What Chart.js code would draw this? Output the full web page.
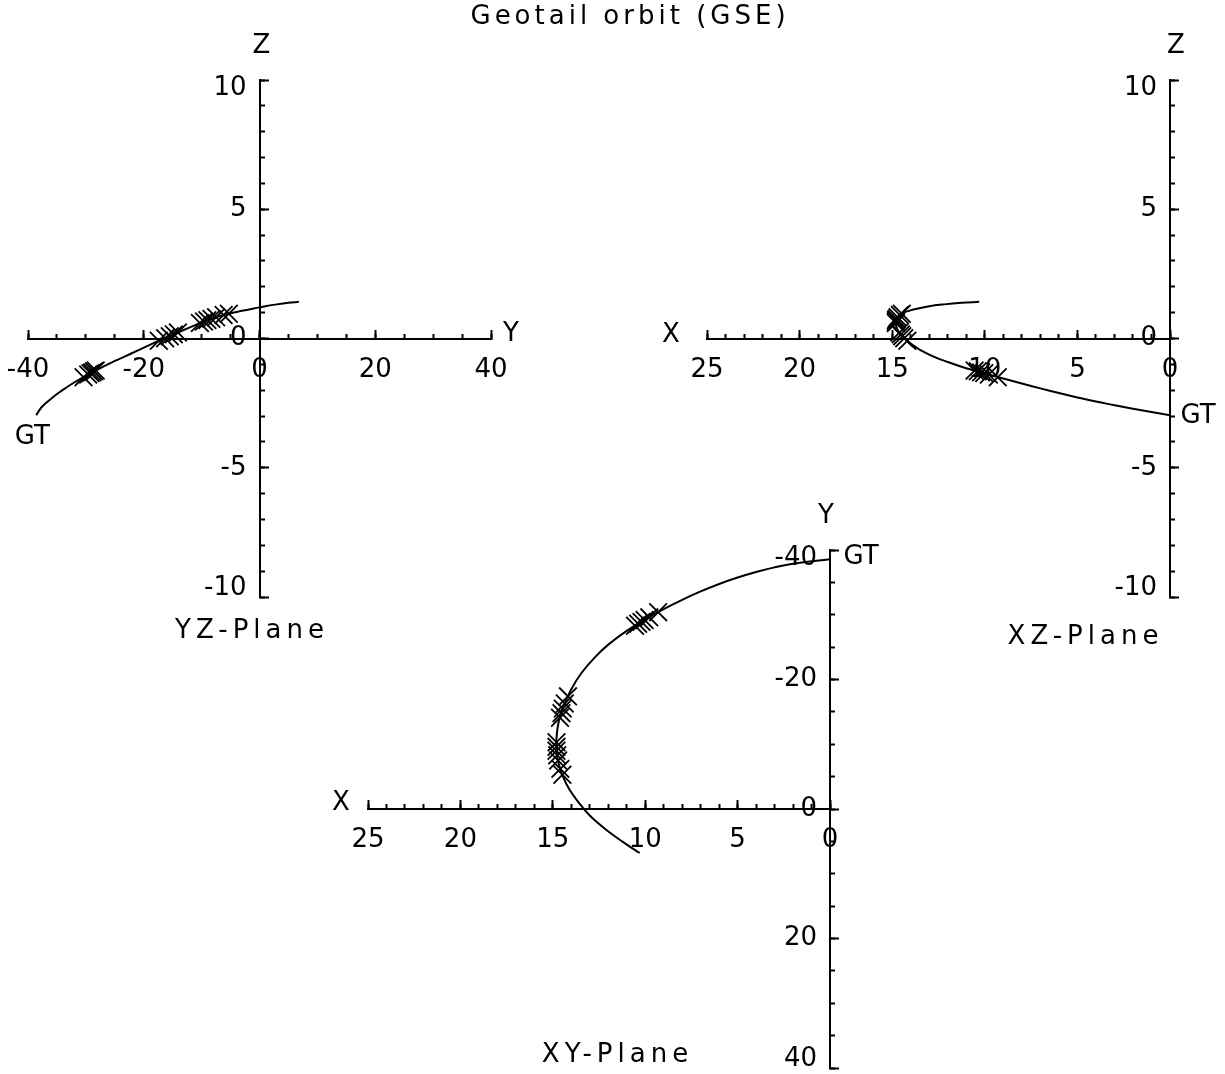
<!DOCTYPE html>
<html><head><meta charset="utf-8">
<script src="https://cdn.jsdelivr.net/npm/chart.js@4/dist/chart.umd.min.js"></script>
<style>
html,body{margin:0;padding:0;background:#fff;overflow:hidden}
#wrap{position:relative;width:1225px;height:1074px;background:#fff}
#wrap canvas{position:absolute;left:0;top:0}
</style></head><body>
<div id="wrap">
<canvas id="yz" width="1225" height="1074"></canvas>
<canvas id="xz" width="1225" height="1074"></canvas>
<canvas id="xy" width="1225" height="1074"></canvas>
</div>
<script>
// ---- data (GSE, Earth radii) ----
const orbitX = [0, 2, 3, 4, 5, 6, 7, 8, 9, 10, 11, 11.95, 12.7, 13.45, 14.0, 14.4, 14.68, 14.8, 14.8, 14.68, 14.45, 14.1, 13.6, 13.0, 12.2, 11.25, 10.3];
const orbitY = [-38.56, -37.88, -37.32, -36.61, -35.75, -34.75, -33.6, -32.3, -30.86, -29.25, -27.52, -25.5, -23.5, -21.0, -18.5, -16.0, -13.5, -11.0, -9.0, -7.0, -5.0, -3.0, -1.0, 1.0, 3.0, 5.0, 6.8];
const orbitZ = [-2.97, -2.72, -2.58, -2.44, -2.28, -2.11, -1.93, -1.74, -1.55, -1.35, -1.15, -0.92, -0.72, -0.46, -0.20, 0.04, 0.29, 0.53, 0.71, 0.86, 0.98, 1.07, 1.16, 1.25, 1.32, 1.38, 1.42];

const markX = [9.3, 9.78, 10.03, 10.2, 10.38, 10.55, 14.18, 14.35, 14.46, 14.53, 14.61, 14.8, 14.8, 14.8, 14.76, 14.71, 14.59, 14.48];
const markY = [-30.4, -29.6, -29.2, -28.9, -28.6, -28.3, -17.4, -16.3, -15.5, -14.8, -14.1, -10.3, -9.6, -9.0, -8.3, -7.5, -6.2, -5.3];
const markZ = [-1.50, -1.39, -1.34, -1.31, -1.27, -1.24, -0.09, 0.01, 0.09, 0.16, 0.23, 0.60, 0.66, 0.71, 0.76, 0.82, 0.91, 0.96];

// tick labels
const yTicksWide = [-40, -20, 0, 20, 40];
const zTicks = [-10, -5, 0, 5, 10];
const xTicks = [25, 20, 15, 10, 5, 0];

const chartTitle = 'Geotail orbit (GSE)';
const planeNames = ['YZ-Plane', 'XZ-Plane', 'XY-Plane'];
const startLabel = 'GT';

// ---- styling ----
const FAMILY = '"DejaVu Sans", "Liberation Sans", sans-serif';
const hFont = {family: FAMILY, size: 26, weight: 'normal'};
const vFont = {family: FAMILY, size: 26, weight: 'normal', lineHeight: '17px'};

function zeroPad(s){ s.paddingLeft = 0; s.paddingRight = 0; s.paddingTop = 0; s.paddingBottom = 0; }

function majorScale(axis, min, max, rev, vals){
  const horiz = axis === 'x';
  // end labels of vertical axes are nudged inward (as in the original)
  const topVal = rev ? min : max, botVal = rev ? max : min;
  const vLabel = v => {
    const s = String(v) + '\u2002';
    if (v === topVal) return ['', s];
    if (v === botVal) return [s, ''];
    return s;
  };
  return {
    type: 'linear', axis, min, max, reverse: rev,
    position: horiz ? {y: 0} : {x: 0},
    afterBuildTicks: s => { s.ticks = vals.map(v => ({value: v})); },
    ticks: {
      font: horiz ? hFont : vFont, color: '#000', padding: horiz ? 26 : 0,
      autoSkip: false, maxRotation: 0, minRotation: 0,
      callback: v => horiz ? String(v) : vLabel(v)
    },
    grid: {drawOnChartArea: false, drawTicks: true, tickLength: -10, tickWidth: 2, tickColor: '#000', color: '#000'},
    border: {display: true, color: '#000', width: 2},
    afterFit: zeroPad
  };
}
function minorScale(axis, min, max, rev, step){
  const horiz = axis === 'x';
  return {
    type: 'linear', axis, min, max, reverse: rev,
    position: horiz ? {y: 0} : {x: 0},
    ticks: {display: false, stepSize: step, autoSkip: false},
    grid: {drawOnChartArea: false, drawTicks: true, tickLength: -5, tickWidth: 2, tickColor: '#000', color: '#000'},
    border: {display: false},
    afterFit: zeroPad
  };
}

const annotPlugin = {
  id: 'annot',
  afterDraw(chart, args, opts) {
    const ctx = chart.ctx, xs = chart.scales.x, ys = chart.scales.y;
    ctx.save();
    ctx.fillStyle = '#000';
    ctx.textAlign = 'center';
    ctx.textBaseline = 'middle';
    ctx.font = '26px ' + FAMILY;
    for (const a of opts.items) {
      const ls = a.ls || 0;
      ctx.letterSpacing = ls + 'px';
      const px = a.abs ? a.x : xs.getPixelForValue(a.x) + a.dx;
      const py = a.abs ? a.y : ys.getPixelForValue(a.y) + a.dy;
      ctx.fillText(a.text, px + ls / 2, py);
    }
    ctx.letterSpacing = '0px';
    ctx.restore();
  }
};

function panel(id, h, v, mh, mv, pad, scales, items){
  const line = h.map((val, i) => ({x: val, y: v[i]}));
  const marks = mh.map((val, i) => ({x: val, y: mv[i]}));
  return new Chart(document.getElementById(id), {
    type: 'scatter',
    data: {datasets: [
      {data: line, showLine: true, borderColor: '#000', borderWidth: 2, pointRadius: 0, tension: 0.4, fill: false, clip: false},
      {data: marks, showLine: false, pointStyle: 'crossRot', pointRadius: 12.5, borderColor: '#000', backgroundColor: 'rgba(0,0,0,0)', borderWidth: 1.8, clip: false}
    ]},
    options: {
      responsive: false, animation: false, events: [],
      layout: {autoPadding: false, padding: pad},
      plugins: {legend: {display: false}, tooltip: {enabled: false}, title: {display: false}, annot: {items}},
      scales
    },
    plugins: [annotPlugin]
  });
}

// YZ plane
panel('yz', orbitY, orbitZ, markY, markZ,
  {left: 28, right: 734, top: 80, bottom: 477},
  {
    x: majorScale('x', -40, 40, false, yTicksWide),
    xm: minorScale('x', -40, 40, false, 5),
    y: majorScale('y', -10, 10, false, zTicks),
    ym: minorScale('y', -10, 10, false, 1)
  },
  [
    {text: chartTitle, abs: true, x: 628, y: 17, ls: 4},
    {text: 'Z', x: 0, y: 10, dx: 2, dy: -34},
    {text: 'Y', x: 40, y: 0, dx: 20, dy: -4},
    {text: startLabel, x: orbitY[0], y: orbitZ[0], dx: -4, dy: 22},
    {text: planeNames[0], x: 0, y: -10, dx: -10, dy: 34, ls: 5}
  ]);

// XZ plane
panel('xz', orbitX, orbitZ, markX, markZ,
  {left: 707, right: 55, top: 80, bottom: 477},
  {
    x: majorScale('x', 0, 25, true, xTicks),
    xm: minorScale('x', 0, 25, true, 1),
    y: majorScale('y', -10, 10, false, zTicks),
    ym: minorScale('y', -10, 10, false, 1)
  },
  [
    {text: 'Z', x: 0, y: 10, dx: 6, dy: -34},
    {text: 'X', x: 25, y: 0, dx: -36, dy: -3},
    {text: startLabel, x: orbitX[0], y: orbitZ[0], dx: 28, dy: 1},
    {text: planeNames[1], x: 0, y: -10, dx: -87, dy: 40, ls: 5}
  ]);

// XY plane
panel('xy', orbitX, orbitY, markX, markY,
  {left: 368, right: 395, top: 550, bottom: 6},
  {
    x: majorScale('x', 0, 25, true, xTicks),
    xm: minorScale('x', 0, 25, true, 1),
    y: majorScale('y', -40, 40, true, yTicksWide),
    ym: minorScale('y', -40, 40, true, 5)
  },
  [
    {text: 'Y', x: 0, y: -40, dx: -4, dy: -34},
    {text: 'X', x: 25, y: 0, dx: -27, dy: -6},
    {text: startLabel, x: orbitX[0], y: orbitY[0], dx: 31, dy: -2},
    {text: planeNames[2], x: 0, y: 40, dx: -215, dy: -13, ls: 5}
  ]);
</script>
</body></html>
